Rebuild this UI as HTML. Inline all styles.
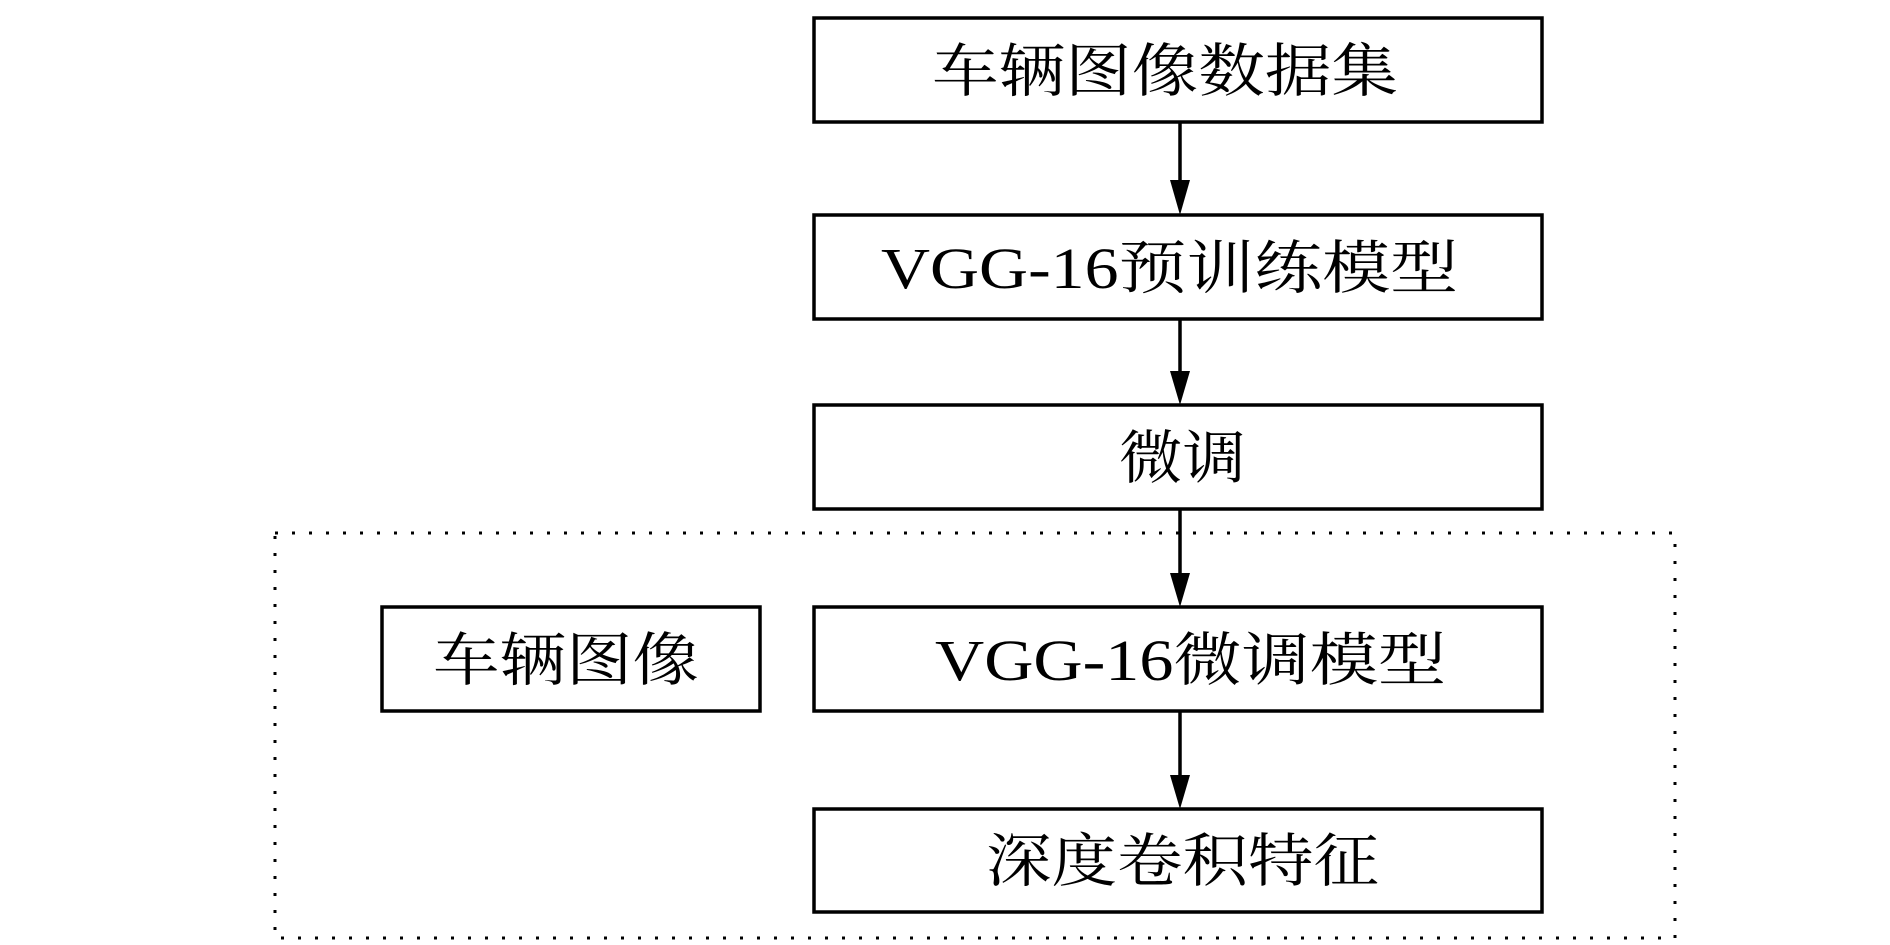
<!DOCTYPE html>
<html><head><meta charset="utf-8"><style>html,body{margin:0;padding:0;background:#fff;}svg{display:block}</style></head>
<body>
<svg width="1890" height="945" viewBox="0 0 1890 945" xmlns="http://www.w3.org/2000/svg">
<g fill="none" stroke="#000" stroke-width="3.5">
<rect x="814" y="18" width="728" height="104"/>
<rect x="814" y="215" width="728" height="104"/>
<rect x="814" y="405" width="728" height="104"/>
<rect x="814" y="607" width="728" height="104"/>
<rect x="814" y="809" width="728" height="103"/>
<rect x="382" y="607" width="378" height="104"/>
<rect x="275" y="533" width="1400" height="405" stroke-width="3" stroke-dasharray="3 14"/>
<line x1="1180" y1="122" x2="1180" y2="185"/>
<line x1="1180" y1="319" x2="1180" y2="376"/>
<line x1="1180" y1="509" x2="1180" y2="578"/>
<line x1="1180" y1="711" x2="1180" y2="780"/>
</g>
<g fill="#000">
<polygon points="1170,180 1190,180 1180,215"/>
<polygon points="1170,371 1190,371 1180,405"/>
<polygon points="1170,573 1190,573 1180,607"/>
<polygon points="1170,775 1190,775 1180,809"/>
</g>
<g font-family="'Liberation Serif','Noto Serif CJK SC',serif" font-size="58" fill="#000" lengthAdjust="spacingAndGlyphs">
<text x="932" y="91" textLength="466" lengthAdjust="spacingAndGlyphs">车辆图像数据集</text>
<text x="881" y="288" textLength="577" lengthAdjust="spacingAndGlyphs">VGG-16预训练模型</text>
<text x="1119" y="478" textLength="127" lengthAdjust="spacingAndGlyphs">微调</text>
<text x="935" y="680" textLength="511" lengthAdjust="spacingAndGlyphs">VGG-16微调模型</text>
<text x="986" y="881" textLength="393" lengthAdjust="spacingAndGlyphs">深度卷积特征</text>
<text x="433" y="680" textLength="266" lengthAdjust="spacingAndGlyphs">车辆图像</text>
</g>
</svg>
</body></html>
